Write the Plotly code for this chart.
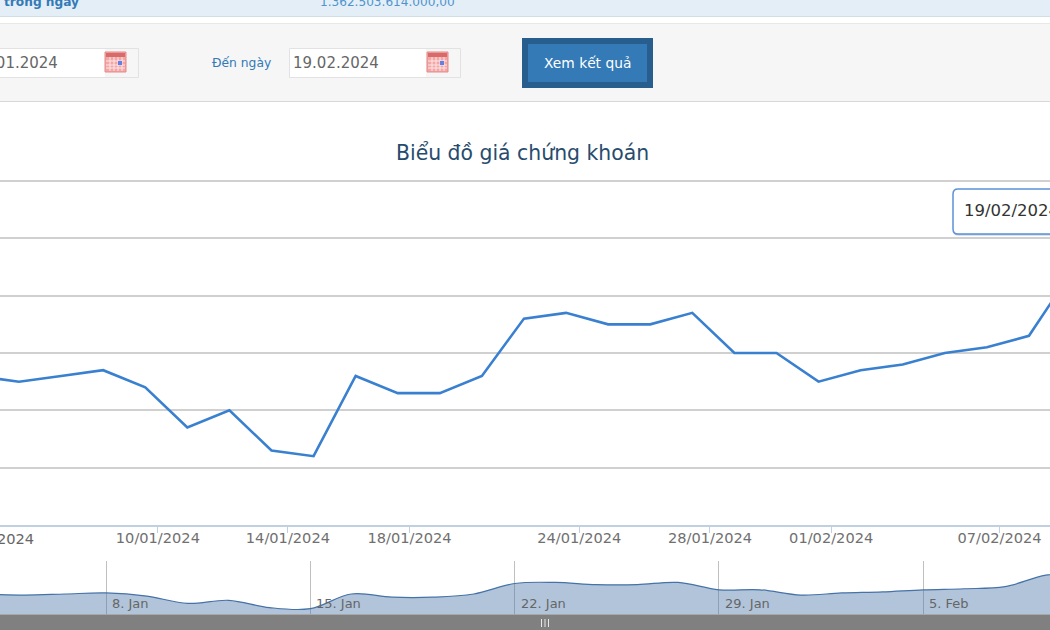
import plotly.graph_objects as go

# Closing prices per trading session (thousand VND)
session_dates = ["03/01", "04/01", "05/01", "08/01", "09/01", "10/01", "11/01", "12/01", "15/01",
                 "16/01", "17/01", "18/01", "19/01", "22/01", "23/01", "24/01", "25/01", "26/01",
                 "29/01", "30/01", "31/01", "01/02", "02/02", "05/02", "06/02", "07/02", "08/02", "15/02"]
close_prices = [22.6, 22.5, 22.6, 22.7, 22.4, 21.7, 22.0, 21.3, 21.2,
                22.6, 22.3, 22.3, 22.6, 23.6, 23.7, 23.5, 23.5, 23.7,
                23.0, 23.0, 22.5, 22.7, 22.8, 23.0, 23.1, 23.3, 24.4, 24.6]

# Ordinal axis ticks: session position and label
main_tick_pos = [4.30, 7.39, 10.28, 14.315, 17.42, 20.30, 24.30]
main_tick_text = ["10/01/2024", "14/01/2024", "18/01/2024", "24/01/2024",
                  "28/01/2024", "01/02/2024", "07/02/2024"]
first_tick_text = "06/01/2024"
nav_tick_sessions = [3, 8, 13, 18, 23]
nav_tick_text = ["8. Jan", "15. Jan", "22. Jan", "29. Jan", "5. Feb"]

page_title = "Biểu đồ giá chứng khoán"
from_date = "01.01.2024"
to_date = "19.02.2024"
to_label = "Đến ngày"
button_text = "Xem kết quả"
summary_label = "trong ngày"
summary_value = "1.362.503.614.000,00"
tooltip_text = "19/02/2024"

W, H = 1050, 630
FONT = "DejaVu Sans"
idx = list(range(len(close_prices)))


def px(x):
    return x / W


def py(y):
    return 1 - y / H


def rect(x0, y0, x1, y1, fill, line=None, lw=1, layer="below"):
    return dict(type="rect", xref="paper", yref="paper", x0=px(x0), x1=px(x1), y0=py(y0), y1=py(y1),
                fillcolor=fill, line=dict(color=line or fill, width=lw if line else 0), layer=layer)


def hline(y, x0, x1, color, lw=1, layer="below"):
    return dict(type="line", xref="paper", yref="paper", x0=px(x0), x1=px(x1), y0=py(y), y1=py(y),
                line=dict(color=color, width=lw), layer=layer)


def vline(x, y0, y1, color, lw=1, layer="above"):
    return dict(type="line", xref="paper", yref="paper", x0=px(x), x1=px(x), y0=py(y0), y1=py(y1),
                line=dict(color=color, width=lw), layer=layer)


def label(x, y, text, size, color, anchor="left", family=FONT, bold=False):
    if bold:
        text = f"<b>{text}</b>"
    return dict(xref="paper", yref="paper", x=px(x), y=py(y), text=text, showarrow=False,
                xanchor=anchor, yanchor="middle", font=dict(family=family, size=size, color=color))


def calendar(x0, y0):
    # Small date-picker glyph: red header, pale grid, blue selected cell
    parts = [rect(x0, y0, x0 + 21, y0 + 20, "#f4a6a6", "#e58a8a"),
             rect(x0 + 1, y0 + 1, x0 + 20, y0 + 5, "#d96a6a")]
    for dx in (5, 9, 13, 17):
        parts.append(vline(x0 + dx, y0 + 5, y0 + 19, "#fde6e6", layer="below"))
    for dy in (9, 13, 16):
        parts.append(hline(y0 + dy, x0 + 1, x0 + 20, "#fde6e6"))
    parts.append(rect(x0 + 13, y0 + 9, x0 + 17, y0 + 13, "#5f83e4"))
    return parts


def tooltip_path(x0, y0, x1, y1, r):
    # Box open towards the right edge, with rounded corners on the left
    bx0, by0, bx1, by1 = px(x0), py(y0), px(x1), py(y1)
    rx, ry = r / W, r / H
    return (f"M {bx0 + rx} {by0} L {bx1} {by0} L {bx1} {by1} L {bx0 + rx} {by1} "
            f"Q {bx0} {by1} {bx0} {by1 + ry} L {bx0} {by0 - ry} Q {bx0} {by0} {bx0 + rx} {by0} Z")


shapes = [
    rect(0, 0, W, 16, "#e3eef6"),
    hline(16.5, 0, W, "#d3dde4"),
    rect(0, 23, W, 101, "#f6f6f6"),
    hline(23.5, 0, W, "#e8e8e8"),
    hline(101.5, 0, W, "#d8d8d8"),
    rect(-4, 48.5, 138.5, 77.5, "#ffffff", "#e2e2e2"),
    rect(105, 49, 138, 77, "#f6f6f6"),
    rect(289.5, 48.5, 460.5, 77.5, "#ffffff", "#e2e2e2"),
    rect(426, 49, 460, 77, "#f6f6f6"),
    rect(522, 38, 653, 88, "#285e8e"),
    rect(528, 44, 647, 82, "#337ab7"),
    rect(0, 614, W, 630, "#808080", layer="above"),
    hline(614.5, 0, W, "#a8a8a8", layer="above"),
]
shapes += calendar(105, 52) + calendar(427, 52)
shapes += [vline(x, 619, 627, "#e8e8e8") for x in (541.5, 545, 548.5)]

shapes.append(dict(type="path", xref="paper", yref="paper", layer="above",
                   path=tooltip_path(953, 190, 1060, 235.5, 5),
                   fillcolor="rgba(60,90,130,0.35)", line=dict(width=0)))
shapes.append(dict(type="path", xref="paper", yref="paper", layer="above",
                   path=tooltip_path(953, 189, 1060, 234, 5),
                   fillcolor="#ffffff", line=dict(color="#5b93d6", width=1.5)))

annotations = [
    label(2, 2, summary_label, 12.2, "#337ab7", bold=True),
    label(318, 2, summary_value, 12.1, "#4f94cf"),
    label(60, 63, from_date, 15, "#666666", anchor="right"),
    label(210, 63, to_label, 12.3, "#337ab7"),
    label(291, 63, to_date, 15, "#666666"),
    label(587.5, 63, button_text, 13.8, "#ffffff", anchor="center"),
    label(522, 153, page_title, 20.4, "#274b6d", anchor="center"),
    label(962, 210.5, tooltip_text, 16.5, "#333333"),
    label(36, 538, first_tick_text, 14.6, "#666666", anchor="right"),
]
for pos, text in zip(nav_tick_sessions, nav_tick_text):
    annotations.append(dict(xref="x2", yref="paper", x=pos, y=py(603), text=text, showarrow=False,
                            xanchor="left", yanchor="middle", xshift=4,
                            font=dict(family=FONT, size=13, color="#666666")))

fig = go.Figure()
fig.add_trace(go.Scatter(x=idx, y=close_prices, mode="lines", xaxis="x", yaxis="y",
                         line=dict(color="#3a80d0", width=2.6), hoverinfo="skip", showlegend=False))
fig.add_trace(go.Scatter(x=idx, y=close_prices, mode="lines", xaxis="x2", yaxis="y2",
                         line=dict(color="#4572a7", width=1.2, shape="spline", smoothing=1.0),
                         fill="tozeroy", fillcolor="rgba(69,114,167,0.42)",
                         hoverinfo="skip", showlegend=False))

fig.update_layout(
    width=W, height=H, margin=dict(l=0, r=0, t=0, b=0),
    paper_bgcolor="#ffffff", plot_bgcolor="rgba(0,0,0,0)",
    shapes=shapes, annotations=annotations,
    font=dict(family=FONT),
    xaxis=dict(domain=[0, 1], anchor="y", range=[0.5485, 25.5],
               tickmode="array", tickvals=main_tick_pos, ticktext=main_tick_text,
               ticks="outside", ticklen=6, tickcolor="#c0d0e0", tickwidth=1,
               ticklabelstandoff=-7,
               tickfont=dict(family=FONT, size=14.6, color="#707070"),
               showgrid=False, showline=True, linecolor="#c0d0e0", linewidth=1.5, zeroline=False),
    yaxis=dict(domain=[py(525), py(179)], anchor="x", range=[20, 26.035], dtick=1,
               showticklabels=False, ticks="", gridcolor="#d0d0d0", gridwidth=1.5, zeroline=False),
    xaxis2=dict(domain=[0, 1], anchor="y2", range=[0.406, 26.1],
                tickmode="array", tickvals=nav_tick_sessions, showticklabels=False, ticks="",
                showgrid=True, gridcolor="#c0c0c0", gridwidth=1.2, zeroline=False),
    yaxis2=dict(domain=[py(614), py(561)], anchor="x2", range=[20.69, 25.75],
                showticklabels=False, ticks="", showgrid=False, zeroline=False),
)

fig.write_html("out.html", config=dict(displayModeBar=False))
